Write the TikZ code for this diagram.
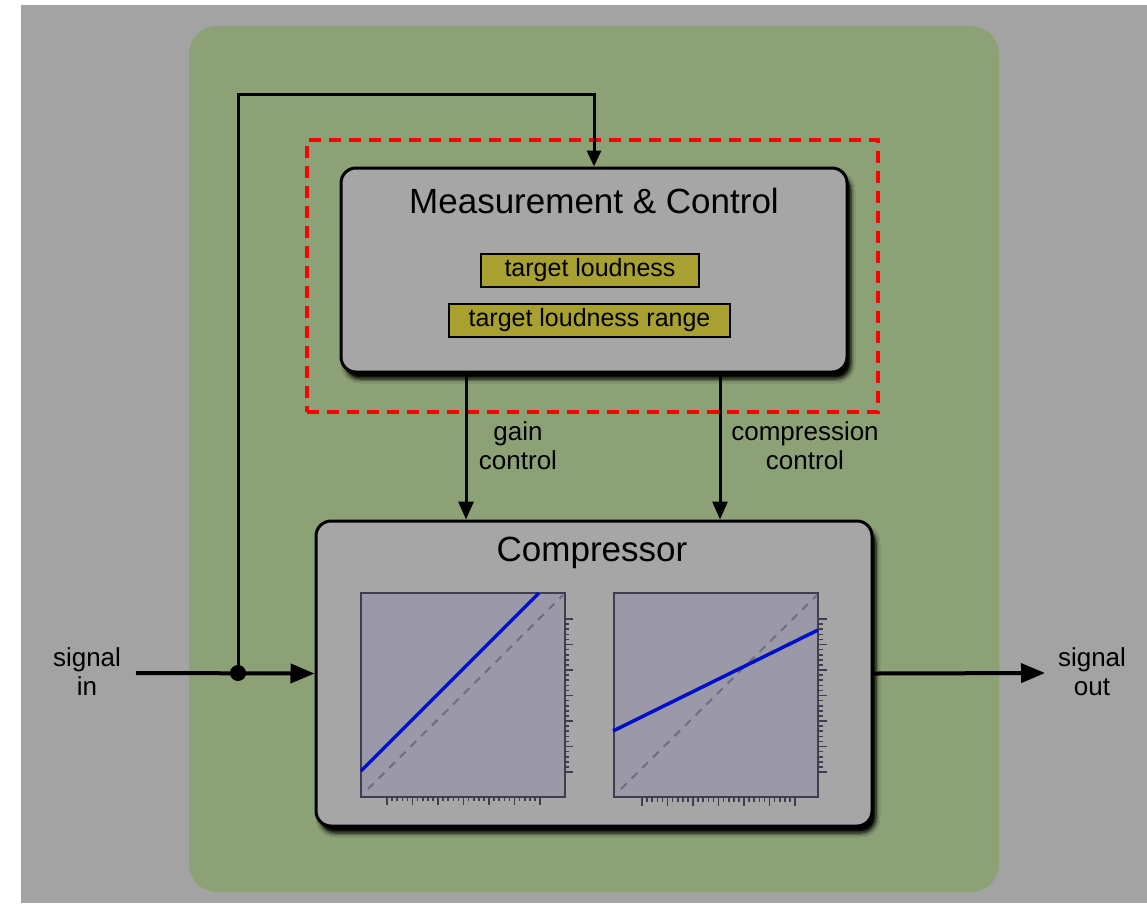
\documentclass[tikz,border=0pt]{standalone}
\usepackage{fontspec}
\setmainfont{Liberation Sans}
\usetikzlibrary{arrows.meta,shadows,shadows.blur,calc}
\definecolor{bggrey}{HTML}{A3A3A3}
\definecolor{panelgreen}{HTML}{8CA176}
\definecolor{boxgrey}{HTML}{A6A6A6}
\definecolor{tagyellow}{HTML}{A8A030}
\definecolor{plotfill}{HTML}{9B98A8}
\definecolor{plotedge}{HTML}{3E3E50}
\definecolor{dashgrey}{HTML}{6E6E7E}
\definecolor{curveblue}{HTML}{0010C8}
\begin{document}
\begin{tikzpicture}[x=1pt,y=-1pt,
  every node/.style={font=\fontsize{26}{29}\selectfont, inner sep=0pt},
  titlefont/.style={font=\fontsize{35}{40}\selectfont},
  box/.style={draw=black, line width=3pt, fill=boxgrey, rounded corners=15pt,
    blur shadow={shadow xshift=4pt, shadow yshift=-7pt, shadow blur steps=6, shadow opacity=100, shadow blur radius=4pt},
    drop shadow={shadow xshift=3pt, shadow yshift=-5pt, opacity=0.45, fill=black}},
  tag/.style={draw=black, line width=2pt, fill=tagyellow, minimum height=33pt,
    font=\fontsize{25}{28}\selectfont},
  plotbox/.style={draw=plotedge, line width=2pt, fill=plotfill, minimum width=204pt, minimum height=204pt},
  selbox/.style={draw=red, line width=4pt, dash pattern=on 12pt off 8pt},
  bigarrow/.style={line width=4pt, -{Triangle[length=24pt,width=19pt]}},
  smallarrow/.style={line width=3pt, -{Triangle[length=18pt,width=15pt]}},
  tick/.style={draw=plotedge, line width=1.6pt},
  blueline/.style={draw=curveblue, line width=3.5pt},
  diag/.style={draw=dashgrey, line width=2pt, dash pattern=on 8pt off 7pt}]
% canvas
\fill[white] (0,0) rectangle (1147,906);
\useasboundingbox (0,0) rectangle (1147,906);
\fill[bggrey] (21,5) rectangle (1147,903);
\fill[panelgreen, rounded corners=28pt] (189,26) rectangle (999,892);

% main blocks
\node[box, minimum width=506pt, minimum height=204pt] (mc) at (594,270) {};
\node[titlefont] (mctitle) at (594,201) {Measurement \& Control};
\node[tag, minimum width=218pt] (tl) at (590,270.5) {target loudness};
\node[tag, minimum width=281pt] (tlr) at (589.5,320.5) {target loudness range};

\node[box, minimum width=556pt, minimum height=305pt] (comp) at (594,673.5) {};
\node[titlefont] (comptitle) at (592,553) {Compressor};

% plots
\node[plotbox] (p1) at (462.5,694.5) {};
\node[plotbox] (p2) at (715.5,695) {};
\draw[diag] (368,789) -- (563,595);
\draw[blueline] (361,771) -- (539,593);
\draw[diag] (621,789) -- (817,595);
\draw[blueline] (613,731) -- (818,630);
\foreach \k in {0,...,30}{
  \pgfmathtruncatemacro\m{mod(\k,5)}
  \pgfmathsetmacro\yy{619+5.1*\k}
  \pgfmathsetmacro\xa{387+5.1*\k}
  \pgfmathsetmacro\xb{642+5.1*\k}
  \ifnum\m=0 \def\tlen{9}\else\def\tlen{5}\fi
  \draw[tick] (564,\yy) -- ++(\tlen,0);
  \draw[tick] (818,\yy) -- ++(\tlen,0);
  \draw[tick] (\xa,796) -- ++(0,\tlen);
  \draw[tick] (\xb,797) -- ++(0,\tlen);
}

% selection outline
\node[selbox, minimum width=571pt, minimum height=272pt] (sel) at (592.5,276) {};

% signal path
\coordinate (sin) at (136,673);
\coordinate (j) at (238,673);
\coordinate (fb) at (238,94);
\coordinate (sout) at (1045,673);
\coordinate (gx) at (466,0);
\coordinate (cx) at (720,0);
\draw[smallarrow, -{Triangle[length=16pt,width=14pt]}] (j) -- (fb) -| (mc.north);
\draw[bigarrow] (sin) -- (comp.west);
\fill (j) circle (8pt);
\draw[bigarrow] (comp.east) -- (sout);

% control arrows
\draw[smallarrow] (mc.south -| gx) -- (comp.north -| gx);
\draw[smallarrow] (mc.south -| cx) -- (comp.north -| cx);

% labels
\node[align=center] (gl) at (518,446) {gain\\control};
\node[align=center] (cl) at (805,446) {compression\\control};
\node[align=center] (lin) at (87,672) {signal\\in};
\node[align=center] (lout) at (1092,672) {signal\\out};
\end{tikzpicture}
\end{document}
